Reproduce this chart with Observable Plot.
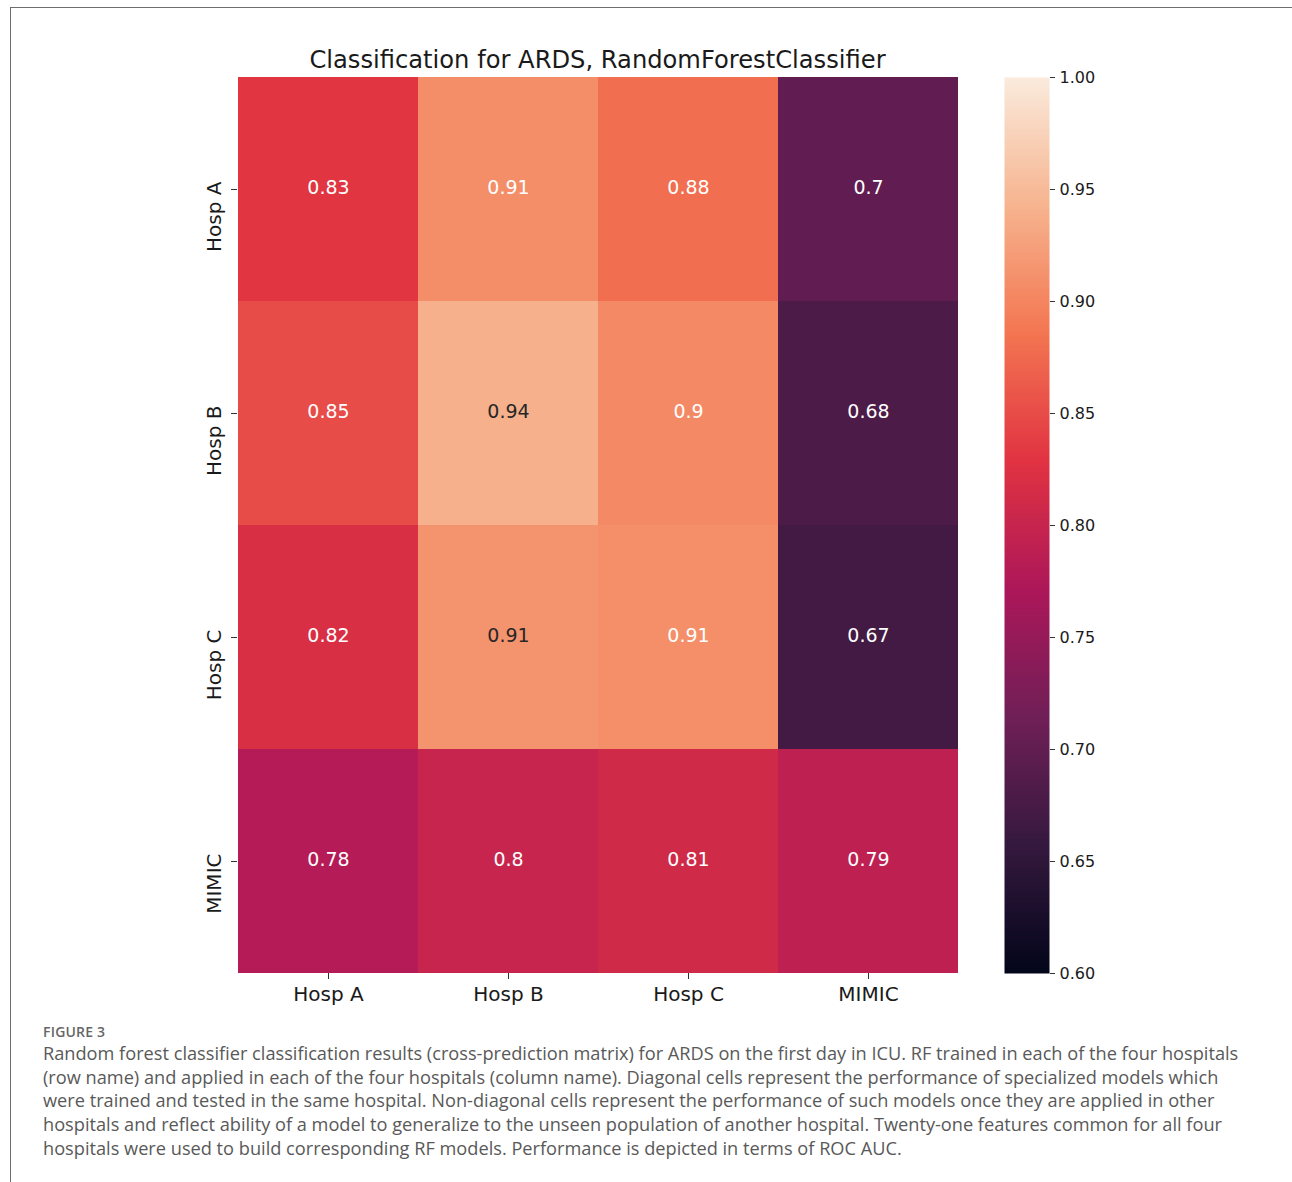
<!DOCTYPE html>
<html>
<head>
<meta charset="utf-8">
<script src="https://cdn.jsdelivr.net/npm/d3@7"></script>
<script src="https://cdn.jsdelivr.net/npm/@observablehq/plot@0.6"></script>
<style>
  html, body { margin: 0; padding: 0; background: #fff; }
  #page { position: relative; width: 1292px; height: 1182px; overflow: hidden; }
  #frame { position: absolute; left: 10px; top: 7px; width: 1290px; height: 1180px;
           border-left: 1.5px solid #6e6e6e; border-top: 1.5px solid #6e6e6e; }
  #title { position: absolute; left: 237px; width: 721px; top: 45px; text-align: center;
           font-family: "DejaVu Sans", sans-serif; font-size: 24.2px; color: #1a1a1a; line-height: 30px; }
  #main { position: absolute; left: 0; top: 77px; }
  #cbar { position: absolute; left: 1004px; top: 62px; }
  #figlabel { position: absolute; left: 43px; top: 1022px; font-family: "Open Sans", sans-serif;
              font-size: 14px; font-weight: 600; color: #666; letter-spacing: 0.2px; }
  #caption { position: absolute; left: 43px; top: 1042px; font-family: "Open Sans", sans-serif;
             font-size: 18.2px; line-height: 23.7px; color: #595959; white-space: nowrap; }
</style>
</head>
<body>
<div id="page">
  <div id="frame"></div>
  <div id="title">Classification for ARDS, RandomForestClassifier</div>
  <div id="main"></div>
  <div id="cbar"></div>
  <div id="figlabel">FIGURE 3</div>
  <div id="caption">Random forest classifier classification results (cross-prediction matrix) for ARDS on the first day in ICU. RF trained in each of the four hospitals<br>(row name) and applied in each of the four hospitals (column name). Diagonal cells represent the performance of specialized models which<br>were trained and tested in the same hospital. Non-diagonal cells represent the performance of such models once they are applied in other<br>hospitals and reflect ability of a model to generalize to the unseen population of another hospital. Twenty-one features common for all four<br>hospitals were used to build corresponding RF models. Performance is depicted in terms of ROC AUC.</div>
</div>
<script>
// Data
const trainedIn = ["Hosp A", "Hosp B", "Hosp C", "MIMIC"];   // rows
const appliedIn = ["Hosp A", "Hosp B", "Hosp C", "MIMIC"];   // columns
const aucHospA = [0.83, 0.908, 0.88, 0.70];
const aucHospB = [0.85, 0.94, 0.904, 0.68];
const aucHospC = [0.82, 0.913, 0.909, 0.67];
const aucMIMIC = [0.78, 0.80, 0.81, 0.79];
const colorbarTicks = [0.60, 0.65, 0.70, 0.75, 0.80, 0.85, 0.90, 0.95, 1.00];
const colorDomain = [0.6, 1.0];

// seaborn "rocket" colormap stops
const rocket = ["#03051a", "#35193e", "#701f57", "#ad1759", "#e13342", "#f37651", "#f6b48f", "#faebdd"];
const rocketInterp = d3.piecewise(d3.interpolateRgb, rocket);

const rowsData = [aucHospA, aucHospB, aucHospC, aucMIMIC];
const table = [];
trainedIn.forEach((r, i) => appliedIn.forEach((c, j) => table.push({row: r, col: c, value: rowsData[i][j]})));

const fmt = d3.format(".2~g");
const font = "'DejaVu Sans', sans-serif";

const main = Plot.plot({
  width: 1000,
  height: 938,
  marginLeft: 237,
  marginRight: 42,
  marginTop: 0,
  marginBottom: 42,
  style: {fontFamily: font, color: "#1a1a1a", background: "transparent"},
  x: {domain: appliedIn, padding: 0, label: null},
  y: {domain: trainedIn, padding: 0, label: null},
  color: {type: "linear", domain: colorDomain, interpolate: rocketInterp, clamp: true},
  marks: [
    Plot.cell(table, {x: "col", y: "row", fill: "value", inset: 0, shapeRendering: "crispEdges"}),
    Plot.text(table, {x: "col", y: "row", text: d => fmt(d.value), fontSize: 19, dy: -2,
      fill: d => d.value > 0.912 ? "#262626" : "#ffffff"}),
    Plot.axisX({tickSize: 6, tickPadding: 7, fontSize: 20, label: null, stroke: "#333"}),
    Plot.axisY({tickSize: 6, fill: "none", label: null, stroke: "#333"}),
    Plot.text(trainedIn, {y: d => d, text: d => d, frameAnchor: "left", dx: -23, dy: -8,
      rotate: -90, textAnchor: "end", lineAnchor: "middle", fontSize: 20, fill: "#1a1a1a"})
  ]
});
document.getElementById("main").appendChild(main);

const cbar = Plot.plot({
  width: 115,
  height: 953,
  marginLeft: 0,
  marginRight: 70,
  marginTop: 15,
  marginBottom: 42,
  style: {fontFamily: font, color: "#1a1a1a", background: "transparent"},
  x: {domain: [0, 1], axis: null},
  y: {domain: colorDomain, label: null},
  color: {type: "linear", domain: colorDomain, interpolate: rocketInterp},
  marks: [
    Plot.raster({fill: (x, y) => y, x1: 0, x2: 1, y1: colorDomain[0], y2: colorDomain[1], width: 1, height: 400}),
    Plot.axisY({anchor: "right", ticks: colorbarTicks, tickFormat: d3.format(".2f"), tickSize: 5,
      tickPadding: 5, fontSize: 16, label: null, stroke: "#333"})
  ]
});
document.getElementById("cbar").appendChild(cbar);
</script>
</body>
</html>
